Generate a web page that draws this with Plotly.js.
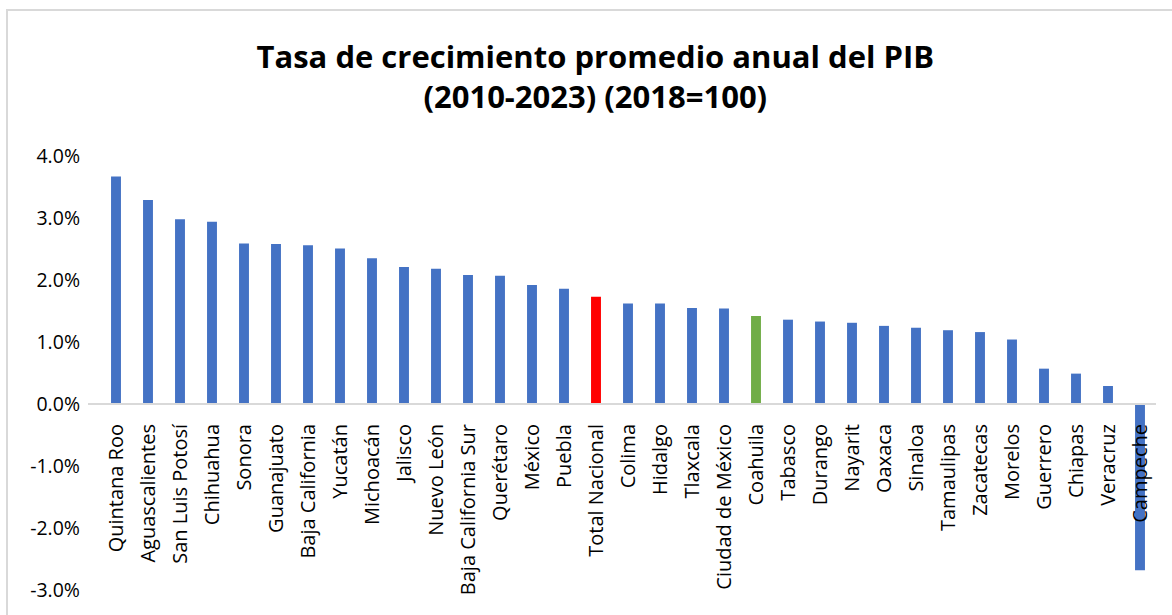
<!DOCTYPE html>
<html>
<head>
<meta charset="utf-8">
<script src="https://cdn.plot.ly/plotly-3.0.1.min.js"></script>
<style>
html,body{margin:0;padding:0;background:#fff;overflow:hidden;}
#wrap{position:relative;width:1172px;height:615px;}
#chart{width:1172px;height:615px;}
#frame{position:absolute;left:6px;top:9px;width:1200px;height:700px;border-left:2px solid #d9d9d9;border-top:2px solid #d9d9d9;pointer-events:none;}
</style>
</head>
<body>
<div id="wrap"><div id="chart"></div><div id="frame"></div></div>
<script>
const categories = ["Quintana Roo","Aguascalientes","San Luis Potosí","Chihuahua","Sonora","Guanajuato","Baja California","Yucatán","Michoacán","Jalisco","Nuevo León","Baja California Sur","Querétaro","México","Puebla","Total Nacional","Colima","Hidalgo","Tlaxcala","Ciudad de México","Coahuila","Tabasco","Durango","Nayarit","Oaxaca","Sinaloa","Tamaulipas","Zacatecas","Morelos","Guerrero","Chiapas","Veracruz","Campeche"];
const growth = [0.0367,0.0329,0.0298,0.0294,0.0259,0.0258,0.0256,0.0251,0.0235,0.0221,0.0218,0.0208,0.0207,0.0192,0.0186,0.0173,0.0162,0.0162,0.0155,0.0154,0.0142,0.0136,0.0133,0.0131,0.0126,0.0123,0.0119,0.0116,0.0104,0.0057,0.0049,0.0029,-0.0268];
const highlight = {"Total Nacional":"#FF0000","Coahuila":"#70AD47"};
const baseColor = "#4472C4";
const yTicks = [-0.03,-0.02,-0.01,0,0.01,0.02,0.03,0.04];
const yTickText = ["-3.0%","-2.0%","-1.0%","0.0%","1.0%","2.0%","3.0%","4.0%"];

const W = 1172, H = 615;
const m = {l:88, r:16, t:156, b:24.5};

const colors = categories.map(c => highlight[c] || baseColor);
const yMin = -0.03, yMax = 0.04;

const trace = {
  type: 'bar', x: categories, y: growth,
  marker: {color: colors, line: {width: 0}},
  hoverinfo: 'x+y'
};

const layout = {
  width: W, height: H,
  margin: m,
  paper_bgcolor: '#fff', plot_bgcolor: '#fff',
  font: {family: 'Open Sans, sans-serif', color: '#000', size: 19},
  title: {
    text: '<b>Tasa de crecimiento promedio anual del PIB<br>(2010-2023) (2018=100)</b>',
    x: 0.475, xref: 'paper', xanchor: 'center', y: 1 - 68/H, yanchor: 'top',
    font: {family: 'Open Sans, sans-serif', size: 31, color: '#000'}
  },
  bargap: 0.69,
  showlegend: false,
  xaxis: {
    type: 'category',
    range: [-0.875, categories.length - 0.5],
    anchor: 'free',
    position: (0 - yMin) / (yMax - yMin),
    showline: true, linecolor: '#d9d9d9', linewidth: 2,
    showgrid: false, zeroline: false, ticks: '',
    tickangle: -90,
    tickfont: {size: 20, color: '#000'},
    ticklabelstandoff: 11,
    fixedrange: true
  },
  yaxis: {
    range: [yMin, yMax],
    tickvals: yTicks,
    ticktext: yTickText,
    showgrid: false, zeroline: false, showline: false, ticks: '',
    tickfont: {size: 19.5, color: '#000'},
    ticklabelstandoff: 7,
    fixedrange: true
  }
};

Plotly.newPlot('chart', [trace], layout, {displayModeBar: false, staticPlot: true});
</script>
</body>
</html>
